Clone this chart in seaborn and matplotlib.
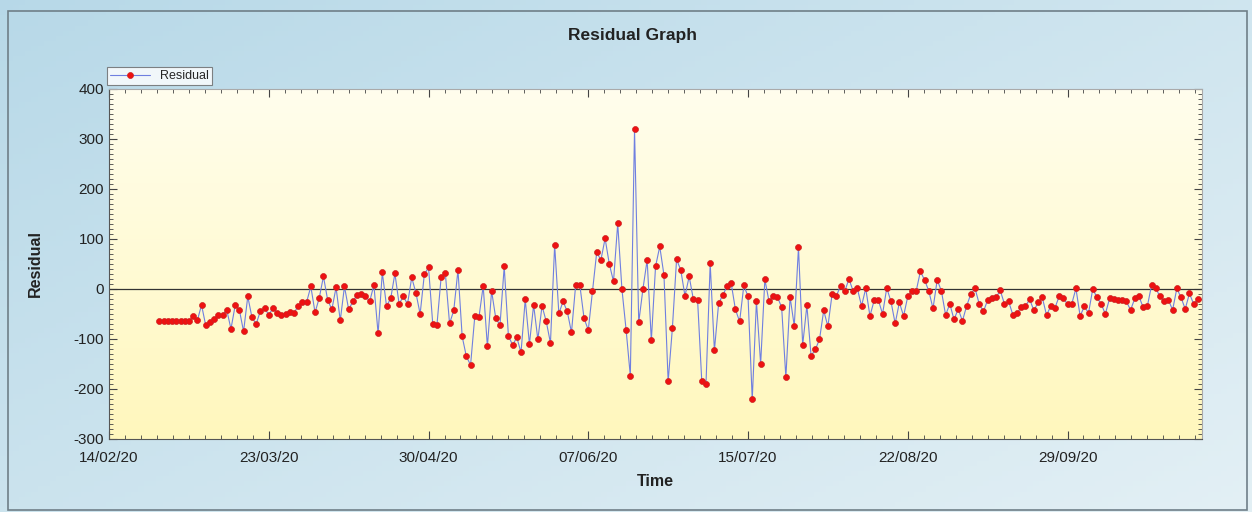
import numpy as np
import pandas as pd
import matplotlib
matplotlib.use('Agg')
import matplotlib.pyplot as plt
import matplotlib.dates as mdates
from matplotlib.ticker import AutoMinorLocator, MultipleLocator
import seaborn as sns

# daily residuals, starting 26/02/20
residual = [
    -65, -65, -65, -65, -65, -65, -65, -65,
    -55, -63, -32, -73, -67, -60, -52, -52, -42, -80, -33, -42, -85, -15,
    -57, -70, -44, -38, -52, -38, -48, -52, -50, -46, -48, -34, -26, -26,
    5, -47, -18, 25,
    -22, -41, 3, -63, 5, -41, -25, -12, -10, -14, -25, 8, -89, 33, -34,
    -19, 31, -30, -15, -30, 23, -8, -50, 29, 43, -70, -72, 24, 31, -69,
    -43, 38, -95, -135, -152, -55, -56, 6, -115, -4,
    -59, -72, 45, -94, -112, -97, -127, -21, -110, -32, -101, -34, -65,
    -108, 88, -49, -25, -45, -87, 8, 7, -59, -82, -4, 73, 58, 101, 50, 15,
    131, 0, -82, -174, 319, -67, 0, 58, -103, 45, 85, 28,
    -185, -79, 59, 38, -14, 25, -21, -22, -185, -190, 51, -123, -29, -12,
    5, 11, -41, -65, 7, -15, -221, -25, -150, 19, -25, -15, -16, -37,
    -177, -16, -74, 83, -112, -33, -134, -121, -101, -43, -75, -10,
    -14, 6, -5, 20, -4, 1, -34, 1, -54, -23, -22, -50, 2, -25, -69, -27,
    -54, -15, -4, -4, 35, 18, -4, -39, 18, -4, -52, -30, -61, -40, -64,
    -34, -10, 1, -30, -45, -22, -19, -17, -3, -30, -25, -52,
    -48, -37, -34, -21, -43, -27, -17, -52, -35, -38, -15, -19, -30, -30,
    1, -54, -35, -48, 0, -17, -30, -50, -19, -21, -22, -23, -25, -42, -19,
    -15, -37, -34, 8, 1, -15, -25, -22, -42, 1, -17, -40, -9, -30, -21,
]
start_date = '2020-02-26'
dates = pd.date_range(start_date, periods=len(residual), freq='D')
df = pd.DataFrame({'Time': dates, 'Residual': residual})

x_ticks = pd.date_range('2020-02-14', periods=7, freq='38D')
y_ticks = [-300, -200, -100, 0, 100, 200, 300, 400]

sns.set_style('ticks')
plt.rcParams['font.family'] = ['Liberation Sans', 'DejaVu Sans']
plt.rcParams['axes.unicode_minus'] = False

fig = plt.figure(figsize=(12.52, 5.12), dpi=100)

# blue gradient behind everything
bg = fig.add_axes([0, 0, 1, 1], zorder=-5)
gx, gy = np.meshgrid(np.linspace(0, 1, 200), np.linspace(0, 1, 100))
g = 0.55 * gx + 0.45 * gy
c0 = np.array([0.72, 0.85, 0.91])
c1 = np.array([0.89, 0.94, 0.96])
img = c0[None, None, :] * (1 - g[..., None]) + c1[None, None, :] * g[..., None]
bg.imshow(img, aspect='auto', extent=[0, 1, 0, 1], origin='upper')
bg.set_axis_off()
bg.add_patch(plt.Rectangle((0.006, 0.004), 0.99, 0.974, fill=False,
                           edgecolor='#6f7f88', linewidth=1.2,
                           transform=bg.transAxes))

ax = fig.add_axes([0.0871, 0.1426, 0.873, 0.6836])
ax.set_facecolor('none')

# yellow gradient of the plot area
yg = np.linspace(0, 1, 100)[:, None]
top = np.array([1.0, 0.995, 0.93])
bot = np.array([1.0, 0.97, 0.74])
ygrad = top[None, :] * (1 - yg) + bot[None, :] * yg
ax.imshow(ygrad[:, None, :], aspect='auto', extent=[0, 1, 0, 1],
          transform=ax.transAxes, zorder=0, origin='upper')

ax.axhline(0, color='#333333', linewidth=0.9, zorder=1)
sns.lineplot(data=df, x='Time', y='Residual', ax=ax, color='#6f7fe0',
             linewidth=0.8, marker='o', markersize=4.3, markerfacecolor='#ee1111',
             markeredgecolor='#cc2222', markeredgewidth=0.5, label='Residual',
             zorder=3)

ax.set_xlim(pd.Timestamp('2020-02-14'), pd.Timestamp('2020-10-31'))
ax.set_ylim(-300, 400)
ax.set_xticks(x_ticks)
ax.xaxis.set_major_formatter(mdates.DateFormatter('%d/%m/%y'))
ax.xaxis.set_minor_locator(AutoMinorLocator(10))
ax.set_yticks(y_ticks)
ax.yaxis.set_minor_locator(MultipleLocator(10))
ax.tick_params(which='both', direction='in', top=True, right=True,
               colors='#444444', labelcolor='#222222', labelsize=11)
ax.tick_params(which='major', length=6)
ax.tick_params(which='minor', length=3)
ax.tick_params(axis='x', pad=9)
for side in ['top', 'right']:
    ax.spines[side].set_color('#aaaaaa')
for side in ['left', 'bottom']:
    ax.spines[side].set_color('#555555')

ax.set_xlabel('Time', fontsize=11.5, fontweight='bold', color='#222222', labelpad=6)
ax.set_ylabel('Residual', fontsize=11.5, fontweight='bold', color='#222222', labelpad=22)
fig.text(0.505, 0.93, 'Residual Graph', ha='center', va='center',
         fontsize=12.5, fontweight='bold', color='#222222')

leg = ax.legend(loc='lower left', bbox_to_anchor=(-0.002, 1.01), frameon=True,
                fancybox=False, fontsize=9, borderpad=0.25, handlelength=3.2,
                borderaxespad=0)
leg.get_frame().set_edgecolor('#666666')
leg.get_frame().set_facecolor('white')
leg.get_frame().set_linewidth(0.8)

fig.savefig('out.png', dpi=100)
